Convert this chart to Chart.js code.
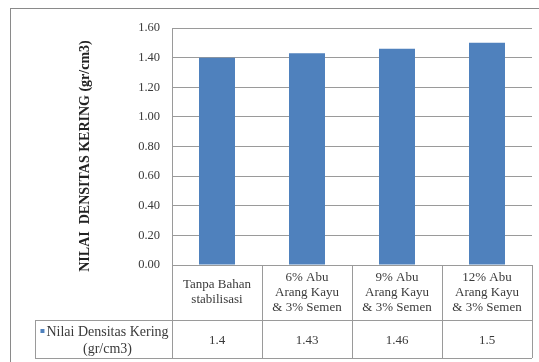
<!DOCTYPE html>
<html>
<head>
<meta charset="utf-8">
<script src="https://cdn.jsdelivr.net/npm/chart.js@4/dist/chart.umd.min.js"></script>
<style>
  body { margin: 0; background: #fff; }
  #wrap { width: 539px; height: 362px; }
</style>
</head>
<body>
<div id="wrap"><canvas id="chart"></canvas></div>
<script>
'use strict';

// data
let categories = [
  ['Tanpa Bahan', 'stabilisasi'],
  ['6% Abu', 'Arang Kayu', '& 3% Semen'],
  ['9% Abu', 'Arang Kayu', '& 3% Semen'],
  ['12% Abu', 'Arang Kayu', '& 3% Semen']
];
let densityValues = [1.4, 1.43, 1.46, 1.5];
let seriesName = ['Nilai Densitas Kering', '(gr/cm3)'];
let yTitle = 'NILAI  DENSITAS KERING (gr/cm3)';
let yTicks = [0, 0.2, 0.4, 0.6, 0.8, 1.0, 1.2, 1.4, 1.6];

let barColor = '#4F81BD';
let lineColor = '#9a9a9a';
let textColor = '#3a3a3a';
let serif = '"Liberation Serif", "DejaVu Serif", serif';

// draws the frame, the axis title and the data table under the plot
let tablePlugin = {
  id: 'dataTable',
  beforeDraw(chart) {
    let ctx = chart.ctx;
    ctx.save();
    ctx.fillStyle = '#fff';
    ctx.fillRect(0, 0, chart.width, chart.height);
    ctx.strokeStyle = '#8a8a8a';
    ctx.lineWidth = 1;
    ctx.strokeRect(10.5, 8.5, chart.width, chart.height);
    ctx.restore();
  },
  afterDraw(chart) {
    let ctx = chart.ctx;
    let area = chart.chartArea;
    let x = chart.scales.x;
    let n = categories.length;
    let colW = (area.right - area.left) / n;
    let top = area.bottom;
    let mid = 320;
    let bot = 358;
    let legL = 35;

    ctx.save();
    // y axis title, Excel puts it a bit lower than the plot centre
    ctx.translate(85, 156);
    ctx.rotate(-Math.PI / 2);
    ctx.fillStyle = '#222';
    ctx.font = 'bold 14px ' + serif;
    ctx.textAlign = 'center';
    ctx.textBaseline = 'middle';
    ctx.fillText(yTitle, 0, 0);
    ctx.restore();

    ctx.save();
    ctx.strokeStyle = lineColor;
    ctx.lineWidth = 1;
    ctx.beginPath();
    ctx.moveTo(area.left, top + 0.5); ctx.lineTo(area.right, top + 0.5);
    ctx.moveTo(legL, mid + 0.5); ctx.lineTo(area.right, mid + 0.5);
    ctx.moveTo(legL, bot + 0.5); ctx.lineTo(area.right, bot + 0.5);
    ctx.moveTo(legL + 0.5, mid); ctx.lineTo(legL + 0.5, bot);
    for (let i = 0; i <= n; i++) {
      let lx = Math.round(area.left + i * colW) + 0.5;
      ctx.moveTo(lx, top); ctx.lineTo(lx, bot);
    }
    ctx.stroke();

    ctx.fillStyle = textColor;
    ctx.font = '13px ' + serif;
    ctx.textAlign = 'center';
    ctx.textBaseline = 'middle';
    let lh = 15;
    for (let i = 0; i < n; i++) {
      let cx = x.getPixelForValue(i);
      let lines = categories[i];
      let y0 = (top + mid) / 2 - (lines.length - 1) * lh / 2;
      lines.forEach((t, j) => ctx.fillText(t, cx, y0 + j * lh));
      ctx.fillText(String(densityValues[i]), cx, (mid + bot) / 2 + 2);
    }

    // legend key cell
    ctx.font = '14px ' + serif;
    let lcx = (legL + area.left) / 2 + 4;
    ctx.fillText(seriesName[0], lcx, 332);
    ctx.fillText(seriesName[1], lcx, 349);
    let tw = ctx.measureText(seriesName[0]).width;
    ctx.fillStyle = barColor;
    ctx.fillRect(lcx - tw / 2 - 6, 329, 4, 4);
    ctx.restore();
  }
};

let ctx = document.getElementById('chart').getContext('2d');
let myChart = new Chart(ctx, {
  type: 'bar',
  data: {
    labels: categories.map(c => c.join(' ')),
    datasets: [{
      label: seriesName.join(' '),
      data: densityValues,
      backgroundColor: barColor,
      borderWidth: 0,
      barPercentage: 0.4,
      categoryPercentage: 1.0
    }]
  },
  options: {
    responsive: true,
    maintainAspectRatio: false,
    animation: false,
    layout: { padding: { left: 75, right: 7, top: 28, bottom: 97 } },
    plugins: {
      legend: { display: false },
      tooltip: { enabled: false }
    },
    scales: {
      x: { display: false },
      y: {
        min: 0,
        max: 1.6,
        afterFit(scale) { scale.width = 97; },
        afterBuildTicks(scale) { scale.ticks = yTicks.map(v => ({ value: v })); },
        ticks: {
          color: textColor,
          font: { family: serif, size: 12.5 },
          padding: 12,
          callback: v => v.toFixed(2)
        },
        grid: { color: lineColor, drawTicks: false },
        border: { color: lineColor },
        title: { display: false }
      }
    }
  },
  plugins: [tablePlugin]
});
</script>
</body>
</html>
